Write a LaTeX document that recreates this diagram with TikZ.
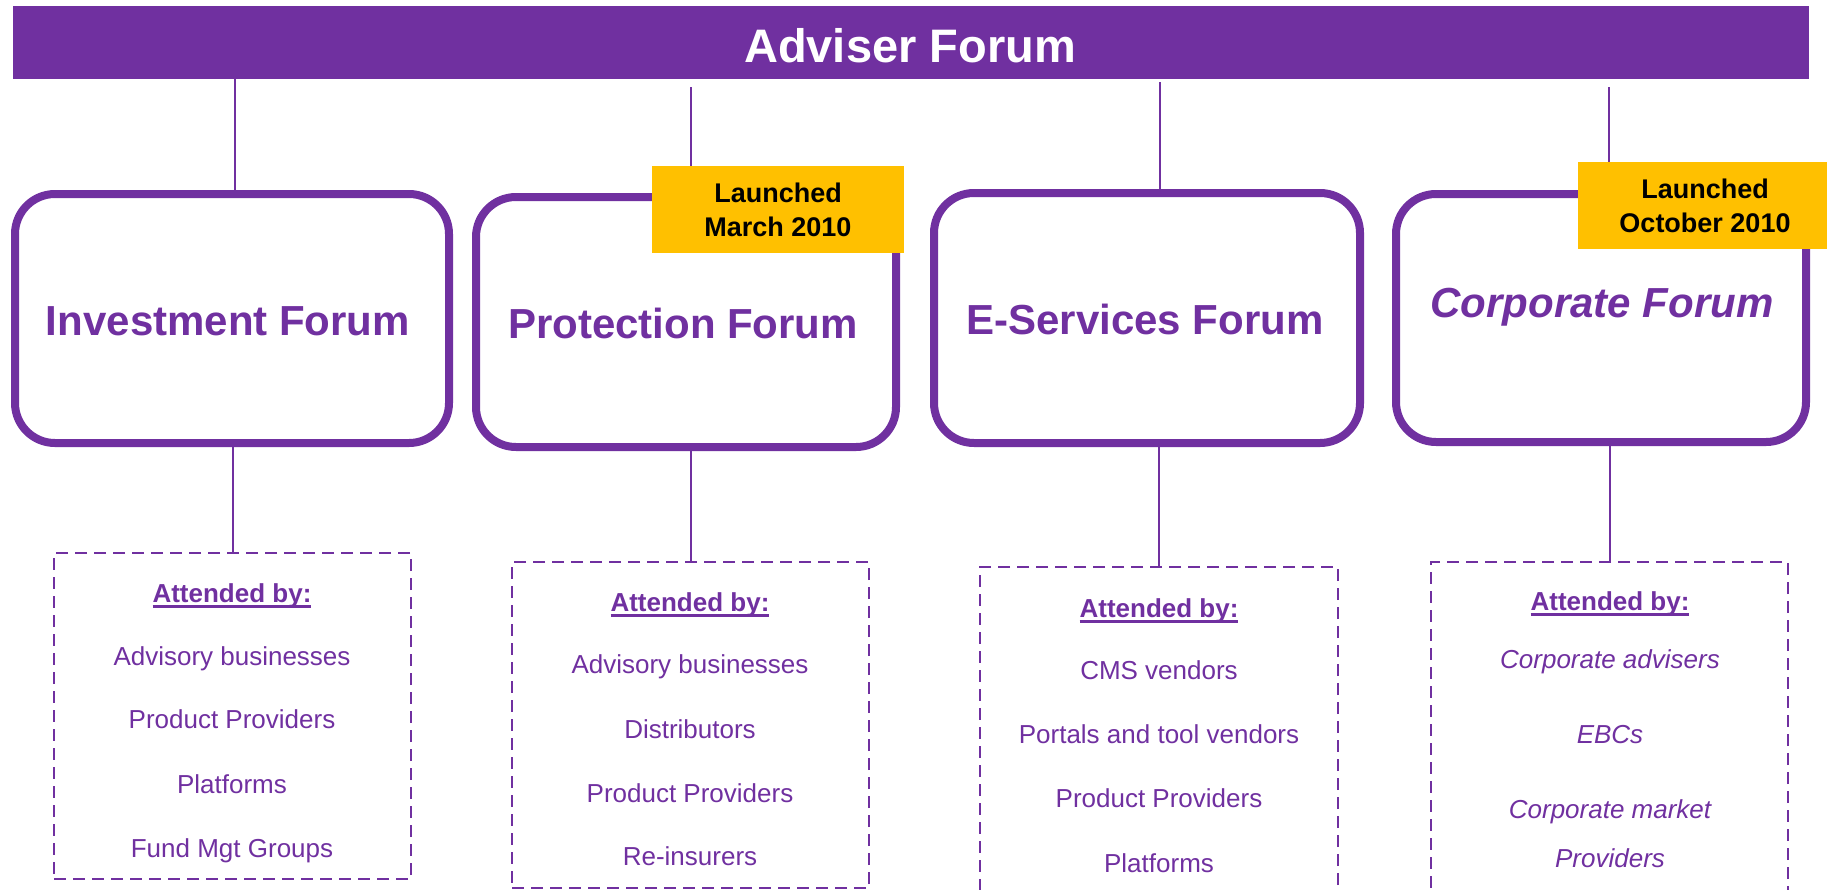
\documentclass[tikz,border=0pt]{standalone}
\usepackage{fontspec}
\setmainfont{Liberation Sans}
\definecolor{fpurple}{HTML}{7030A0}
\definecolor{fyellow}{HTML}{FFC000}
\newcommand\myul[1]{\setbox0=\hbox{#1}\rlap{\rule[-5.5pt]{\wd0}{2.5pt}}\box0}
\begin{document}
\begin{tikzpicture}[x=1pt,y=-1pt,
  barbox/.style={fill=fpurple,inner sep=0pt},
  bartitle/.style={text=white,font=\fontsize{47}{56}\selectfont\bfseries,anchor=base,inner sep=0pt},
  forumbox/.style={draw=fpurple,line width=8pt,rounded corners=40pt,fill=white,inner sep=0pt},
  forumtitle/.style={text=fpurple,font=\fontsize{42}{50}\selectfont\bfseries,anchor=base,inner sep=0pt},
  launchbox/.style={fill=fyellow,inner sep=0pt,minimum height=87pt,align=center,font=\fontsize{27}{34}\selectfont\bfseries,text=black},
  attbox/.style={draw=fpurple,line width=2.5pt,dash pattern=on 12pt off 7pt,inner sep=0pt},
  atthead/.style={text=fpurple,font=\fontsize{26}{30}\selectfont\bfseries,anchor=base,inner sep=0pt},
  attitem/.style={text=fpurple,font=\fontsize{26}{30}\selectfont,anchor=base,inner sep=0pt},
  conn/.style={draw=fpurple,line width=2pt}]
\useasboundingbox (0,0) rectangle (1827,889);
\clip (0,0) rectangle (1827,889);

% header bar
\node[barbox,minimum width=1796pt,minimum height=73pt] (bar) at (911,42.5) {};
\node[bartitle] (bartext) at (910,62) {Adviser Forum};

% forum boxes
\node[forumbox,minimum width=434pt,minimum height=249pt] (inv) at (232,318.5) {};
\node[forumbox,minimum width=420pt,minimum height=250pt] (prot) at (686,322) {};
\node[forumbox,minimum width=426pt,minimum height=250pt] (es) at (1147,318) {};
\node[forumbox,minimum width=410pt,minimum height=248pt] (corp) at (1601,318) {};

\node[forumtitle] (invt) at (228,335) {Investment Forum};
\node[forumtitle] (prott) at (683,338) {Protection Forum};
\node[forumtitle] (est) at (1145,334) {E-Services Forum};
\node[forumtitle,font=\fontsize{42}{50}\selectfont\bfseries\itshape] (corpt) at (1602,317) {Corporate Forum};

% launched labels
\node[launchbox,minimum width=252pt] (la) at (778,209.5) {Launched\\March 2010};
\node[launchbox,minimum width=254pt] (lb) at (1705,205.5) {Launched\\October 2010};

% attendee boxes
\node[attbox,minimum width=357pt,minimum height=326pt] (d1) at (232.5,716) {};
\node[attbox,minimum width=357pt,minimum height=326pt] (d2) at (690.5,725) {};
\node[attbox,minimum width=358pt,minimum height=340pt] (d3) at (1159,737) {};
\node[attbox,minimum width=357pt,minimum height=340pt] (d4) at (1609.5,732) {};

% top connectors
\coordinate (t1) at (235,79);
\coordinate (t2) at (691,87);
\coordinate (t3) at (1160,82);
\coordinate (t4) at (1609,87);
\draw[conn] (t1) -- (t1 |- inv.north);
\draw[conn] (t2) -- (t2 |- la.north);
\draw[conn] (t3) -- (t3 |- es.north);
\draw[conn] (t4) -- (t4 |- lb.north);

% bottom connectors
\draw[conn] (inv.south -| d1.north) -- (d1.north);
\draw[conn] (prot.south -| d2.north) -- (d2.north);
\draw[conn] (es.south -| d3.north) -- (d3.north);
\draw[conn] (corp.south -| d4.north) -- (d4.north);

% attendee texts
\node[atthead] (h1) at (232,602) {\myul{Attended by:}};
\node[attitem] (a1) at (232,665) {Advisory businesses};
\node[attitem] (a2) at (232,728) {Product Providers};
\node[attitem] (a3) at (232,793) {Platforms};
\node[attitem] (a4) at (232,857) {Fund Mgt Groups};

\node[atthead] (h2) at (690,611) {\myul{Attended by:}};
\node[attitem] (b1) at (690,673) {Advisory businesses};
\node[attitem] (b2) at (690,738) {Distributors};
\node[attitem] (b3) at (690,802) {Product Providers};
\node[attitem] (b4) at (690,865) {Re-insurers};

\node[atthead] (h3) at (1159,617) {\myul{Attended by:}};
\node[attitem] (c1) at (1159,679) {CMS vendors};
\node[attitem] (c2) at (1159,743) {Portals and tool vendors};
\node[attitem] (c3) at (1159,807) {Product Providers};
\node[attitem] (c4) at (1159,872) {Platforms};

\node[atthead] (h4) at (1610,610) {\myul{Attended by:}};
\node[attitem,font=\fontsize{26}{30}\selectfont\itshape] (e1) at (1610,668) {Corporate advisers};
\node[attitem,font=\fontsize{26}{30}\selectfont\itshape] (e2) at (1610,743) {EBCs};
\node[attitem,font=\fontsize{26}{30}\selectfont\itshape] (e3) at (1610,818) {Corporate market};
\node[attitem,font=\fontsize{26}{30}\selectfont\itshape] (e4) at (1610,867) {Providers};
\end{tikzpicture}
\end{document}
